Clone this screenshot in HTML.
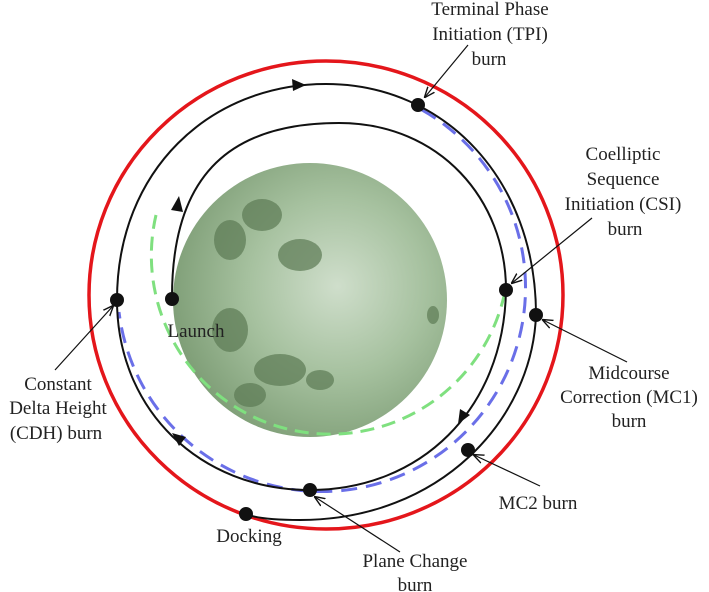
<!DOCTYPE html>
<html><head><meta charset="utf-8"><style>
html,body{margin:0;padding:0;background:#fff}
svg{display:block}
text{font-family:"Liberation Serif",serif;font-size:19px;fill:#222;text-anchor:middle}
</style></head><body>
<svg width="709" height="592" viewBox="0 0 709 592" xmlns="http://www.w3.org/2000/svg">
<defs>
<radialGradient id="moon" cx="0.6" cy="0.45" r="0.65">
<stop offset="0" stop-color="#cfdecb"/>
<stop offset="0.5" stop-color="#a6c19f"/>
<stop offset="1" stop-color="#7a9a72"/>
</radialGradient>
<marker id="ah" viewBox="0 0 10 10" refX="9" refY="5" markerWidth="9" markerHeight="9" orient="auto"><path d="M0,1 L10,5 L0,9" fill="none" stroke="#111" stroke-width="1.3"/></marker>
</defs>
<circle cx="310" cy="300" r="137" fill="url(#moon)"/>
<g fill="#5c7a54" opacity="0.7">
<ellipse cx="262" cy="215" rx="20" ry="16"/>
<ellipse cx="230" cy="240" rx="16" ry="20"/>
<ellipse cx="300" cy="255" rx="22" ry="16"/>
<ellipse cx="280" cy="370" rx="26" ry="16"/>
<ellipse cx="230" cy="330" rx="18" ry="22"/>
<ellipse cx="433" cy="315" rx="6" ry="9"/>
<ellipse cx="320" cy="380" rx="14" ry="10"/>
<ellipse cx="250" cy="395" rx="16" ry="12"/>
</g>
<ellipse cx="326" cy="295" rx="237" ry="234" fill="none" stroke="#e4161b" stroke-width="3.5"/>
<path d="M156,215 A176,176 0 1 0 504,296" fill="none" stroke="#7fe07f" stroke-width="3" stroke-dasharray="14,8"/>
<path d="M422,110 A204,204 0 1 1 119,312" fill="none" stroke="#6a6fe8" stroke-width="3" stroke-dasharray="16,9"/>
<path d="M117,300 C117,170 210,84 326,84 C445,84 536,180 536,315" fill="none" stroke="#111" stroke-width="2"/>
<path d="M536,315 C532,420 440,520 300,520 C275,520 255,518 246,514" fill="none" stroke="#111" stroke-width="2"/>
<path d="M172,300 C171,170 235,123 339,123 C440,123 506,200 506,290" fill="none" stroke="#111" stroke-width="2"/>
<path d="M506,290 C504,410 420,490 310,490 C200,490 117,410 117,300" fill="none" stroke="#111" stroke-width="2"/>
<g fill="#111">
<path d="M179,196 L171,210 L183,212 Z"/>
<path d="M306,85 L292,79 L293,91 Z"/>
<path d="M458,424 L460,409 L470,415 Z"/>
<path d="M172,433 L186,437 L179,446 Z"/>
</g>
<g fill="#111">
<circle cx="418" cy="105" r="7"/>
<circle cx="506" cy="290" r="7"/>
<circle cx="536" cy="315" r="7"/>
<circle cx="172" cy="299" r="7"/>
<circle cx="117" cy="300" r="7"/>
<circle cx="468" cy="450" r="7"/>
<circle cx="310" cy="490" r="7"/>
<circle cx="246" cy="514" r="7"/>
</g>
<g stroke="#111" stroke-width="1.2" fill="none" marker-end="url(#ah)">
<line x1="468" y1="45" x2="425" y2="97"/>
<line x1="592" y1="218" x2="512" y2="283"/>
<line x1="627" y1="362" x2="543" y2="320"/>
<line x1="55" y1="370" x2="113" y2="306"/>
<line x1="540" y1="486" x2="474" y2="455"/>
<line x1="400" y1="552" x2="315" y2="497"/>
</g>
<text x="490" y="15">Terminal Phase</text>
<text x="490" y="40">Initiation (TPI)</text>
<text x="489" y="65">burn</text>
<text x="623" y="160">Coelliptic</text>
<text x="623" y="185">Sequence</text>
<text x="623" y="210">Initiation (CSI)</text>
<text x="625" y="235">burn</text>
<text x="629" y="379">Midcourse</text>
<text x="629" y="403">Correction (MC1)</text>
<text x="629" y="427">burn</text>
<text x="58" y="390">Constant</text>
<text x="58" y="414">Delta Height</text>
<text x="56" y="439">(CDH) burn</text>
<text x="196" y="337">Launch</text>
<text x="538" y="509">MC2 burn</text>
<text x="249" y="542">Docking</text>
<text x="415" y="567">Plane Change</text>
<text x="415" y="591">burn</text>
</svg>
</body></html>
